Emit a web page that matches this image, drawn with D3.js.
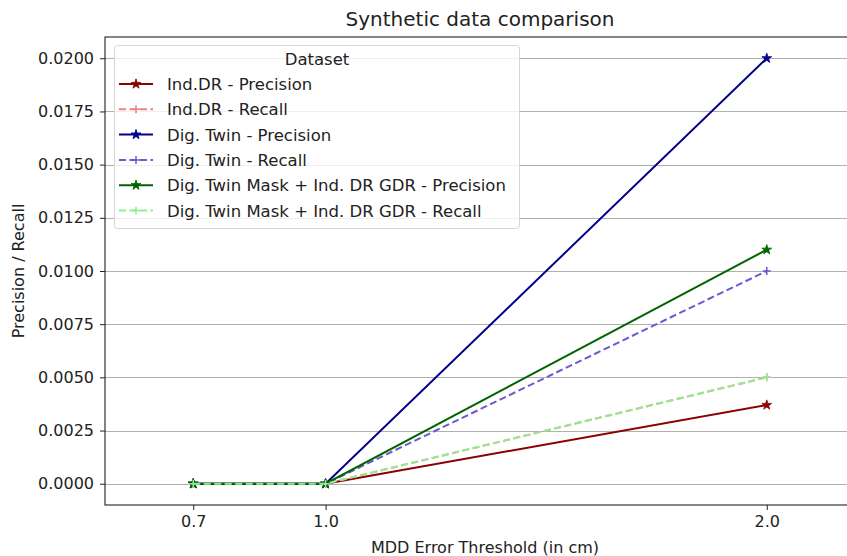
<!DOCTYPE html>
<html>
<head>
<meta charset="utf-8">
<script src="https://cdn.jsdelivr.net/npm/d3@7"></script>
<style>
  body { margin: 0; background: #fff; }
  text { font-family: "DejaVu Sans", sans-serif; fill: #222; }
</style>
</head>
<body>
<div id="chart"></div>
<script>
// data
var thresholds = [0.7, 1.0, 2.0];
var xTicks = [0.7, 1.0, 2.0];
var yTicks = [0, 0.0025, 0.005, 0.0075, 0.01, 0.0125, 0.015, 0.0175, 0.02];

var seriesNames = [
  "Ind.DR - Precision",
  "Ind.DR - Recall",
  "Dig. Twin - Precision",
  "Dig. Twin - Recall",
  "Dig. Twin Mask + Ind. DR GDR - Precision",
  "Dig. Twin Mask + Ind. DR GDR - Recall"
];
var indPrecision = [0, 0, 0.0037];
var indRecall = [0, 0, 0.005];
var twinPrecision = [0, 0, 0.02];
var twinRecall = [0, 0, 0.01];
var maskPrecision = [0, 0, 0.011];
var maskRecall = [0, 0, 0.005];
var seriesValues = [indPrecision, indRecall, twinPrecision, twinRecall, maskPrecision, maskRecall];
var seriesColors = ["#8b0000", "#f08080", "#00008b", "#6a5acd", "#006400", "#90ee90"];
var seriesDashed = [false, true, false, true, false, true];

var W = 847, H = 556;
var margin = {top: 37, right: -8, bottom: 51, left: 105};
var width = W - margin.left - margin.right,
    height = H - margin.top - margin.bottom;

var svg = d3.select("#chart")
  .append("svg")
    .attr("width", W)
    .attr("height", H);

var g = svg.append("g")
    .attr("transform", "translate(" + margin.left + "," + margin.top + ")");

var x = d3.scaleLinear()
    .domain([0.5, 2.2])
    .range([0, width]);

var y = d3.scaleLinear()
    .domain([-0.001, 0.021])
    .range([height, 0]);

// horizontal grid
g.append("g")
  .selectAll("line")
  .data(yTicks)
  .enter()
  .append("line")
    .attr("x1", 0)
    .attr("x2", width)
    .attr("y1", function(d) { return Math.round(y(d)) + 0.5; })
    .attr("y2", function(d) { return Math.round(y(d)) + 0.5; })
    .attr("stroke", "#b0b0b0")
    .attr("stroke-width", 1);

// axes
var xAxis = g.append("g")
    .attr("transform", "translate(0," + height + ")")
    .call(d3.axisBottom(x).tickValues(xTicks).tickFormat(d3.format(".1f")).tickSize(5).tickPadding(6));
var yAxis = g.append("g")
    .call(d3.axisLeft(y).tickValues(yTicks).tickFormat(d3.format(".4f")).tickSize(5).tickPadding(6));
[xAxis, yAxis].forEach(function(a) {
  a.select(".domain").remove();
  a.selectAll("line").attr("stroke", "#222");
  a.selectAll("text").style("font-size", "16px").style("font-family", "DejaVu Sans, sans-serif").attr("fill", "#222");
});

// frame
g.append("rect")
    .attr("x", 0)
    .attr("y", 0)
    .attr("width", width)
    .attr("height", height)
    .attr("fill", "none")
    .attr("stroke", "#222")
    .attr("stroke-width", 1.1);

// lines
var line = d3.line()
    .x(function(d, i) { return x(thresholds[i]); })
    .y(function(d) { return y(d); });

function starPath(r) {
  return d3.symbol().type(d3.symbolStar).size(r)();
}

function drawMarker(sel, i, cx, cy) {
  if (seriesDashed[i]) {
    sel.append("path")
      .attr("d", "M" + (cx - 4) + "," + cy + "H" + (cx + 4) + "M" + cx + "," + (cy - 4) + "V" + (cy + 4))
      .attr("stroke", seriesColors[i])
      .attr("stroke-width", 1.5);
  } else {
    sel.append("path")
      .attr("d", starPath(30))
      .attr("transform", "translate(" + cx + "," + cy + ")")
      .attr("fill", seriesColors[i])
      .attr("stroke", seriesColors[i])
      .attr("stroke-width", 0.8);
  }
}

seriesValues.forEach(function(vals, i) {
  var s = g.append("g");
  s.append("path")
    .datum(vals)
    .attr("d", line)
    .attr("fill", "none")
    .attr("stroke", seriesColors[i])
    .attr("stroke-width", 2)
    .attr("stroke-dasharray", seriesDashed[i] ? "7,3.5" : null);
  vals.forEach(function(v, j) {
    drawMarker(s, i, x(thresholds[j]), y(v));
  });
});

// legend
var lg = svg.append("g").attr("transform", "translate(114,45)");
lg.append("rect")
    .attr("x", 0.5)
    .attr("y", 0.5)
    .attr("width", 405)
    .attr("height", 183)
    .attr("rx", 3)
    .attr("fill", "#fff")
    .attr("fill-opacity", 0.8)
    .attr("stroke", "#d6d6d6");
lg.append("text")
    .attr("x", 203)
    .attr("y", 20)
    .attr("text-anchor", "middle")
    .style("font-size", "16.5px")
    .text("Dataset");
seriesNames.forEach(function(name, i) {
  var yy = 39 + i * 25.3;
  var e = lg.append("g");
  e.append("line")
    .attr("x1", 5)
    .attr("x2", 39)
    .attr("y1", yy)
    .attr("y2", yy)
    .attr("stroke", seriesColors[i])
    .attr("stroke-width", 2)
    .attr("stroke-dasharray", seriesDashed[i] ? "7,3.5" : null);
  drawMarker(e, i, 22, yy);
  e.append("text")
    .attr("x", 53)
    .attr("y", yy + 6)
    .style("font-size", "16.5px")
    .text(name);
});

// titles
svg.append("text")
    .attr("x", 480)
    .attr("y", 26)
    .attr("text-anchor", "middle")
    .style("font-size", "20px")
    .text("Synthetic data comparison");
svg.append("text")
    .attr("x", 485)
    .attr("y", 553)
    .attr("text-anchor", "middle")
    .style("font-size", "16px")
    .text("MDD Error Threshold (in cm)");
svg.append("text")
    .attr("transform", "translate(24," + (margin.top + height / 2) + ") rotate(-90)")
    .attr("text-anchor", "middle")
    .style("font-size", "16px")
    .text("Precision / Recall");
</script>
</body>
</html>
